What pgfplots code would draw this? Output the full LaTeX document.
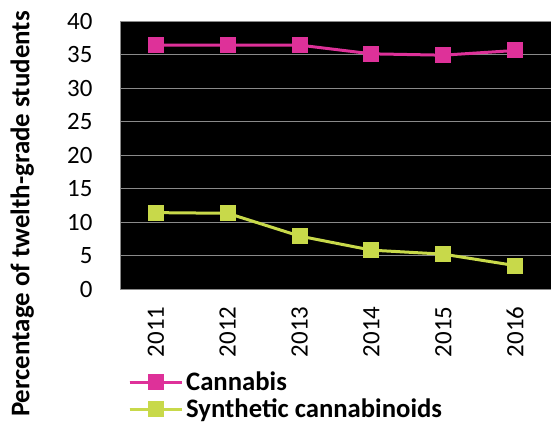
\documentclass[border=0pt]{standalone}
\usepackage{pgfplots}
\pgfplotsset{compat=1.18}
\usepackage{fontspec}
\setmainfont{Carlito}
\definecolor{canpink}{HTML}{DE3199}
\definecolor{synlime}{HTML}{C8D94A}
\definecolor{gridgray}{HTML}{8A8A8A}
\begin{document}
\begin{tikzpicture}[x=1bp,y=1bp]
\useasboundingbox (-120,-139) rectangle (431,289);
\begin{axis}[
  at={(0,0)}, anchor=south west,
  scale only axis,
  width=431bp, height=268bp,
  xmin=-0.5, xmax=5.5,
  ymin=0, ymax=40,
  ytick={0,5,...,40},
  xtick={0,...,5},
  xticklabels={2011,2012,2013,2014,2015,2016},
  xticklabel style={rotate=90, anchor=east, font=\fontsize{25}{25}\selectfont, xshift=-14bp},
  yticklabel style={font=\fontsize{25}{25}\selectfont, xshift=-24bp},
  /pgf/number format/assume math mode=true,
  tick style={draw=none},
  ymajorgrids,
  grid style={gridgray, line width=1bp},
  axis background/.style={fill=black},
  axis line style={draw=gridgray, line width=1bp},
  ylabel={\textbf{Percentage of twelth-grade students}},
  ylabel style={font=\fontsize{27}{27}\selectfont, at={(axis description cs:-0.227,0.28)}, anchor=center},
  legend style={draw=none, fill=none, at={(axis description cs:0.0185,-0.305)}, anchor=north west,
    font=\fontsize{26.8}{28}\selectfont\bfseries, row sep=5bp, inner sep=0pt,
    nodes={inner xsep=3bp, inner ysep=1bp}},
  legend cell align=left,
  legend image code/.code={
    \draw[line width=3bp] (0bp,0bp) -- (52bp,0bp);
    \draw[mark repeat=2,mark phase=2] plot coordinates {(0bp,0bp) (26bp,0bp) (52bp,0bp)};
  },
]
\addplot[canpink, line width=3bp, mark=square*, mark size=6.5bp, mark options={solid}]
  coordinates {(0,36.4) (1,36.4) (2,36.4) (3,35.1) (4,34.9) (5,35.6)};
\addlegendentry{Cannabis}
\addplot[synlime, line width=3bp, mark=square*, mark size=6.5bp, mark options={solid}]
  coordinates {(0,11.4) (1,11.3) (2,7.9) (3,5.8) (4,5.2) (5,3.5)};
\addlegendentry{Synthetic cannabinoids}
\end{axis}
\end{tikzpicture}
\end{document}
